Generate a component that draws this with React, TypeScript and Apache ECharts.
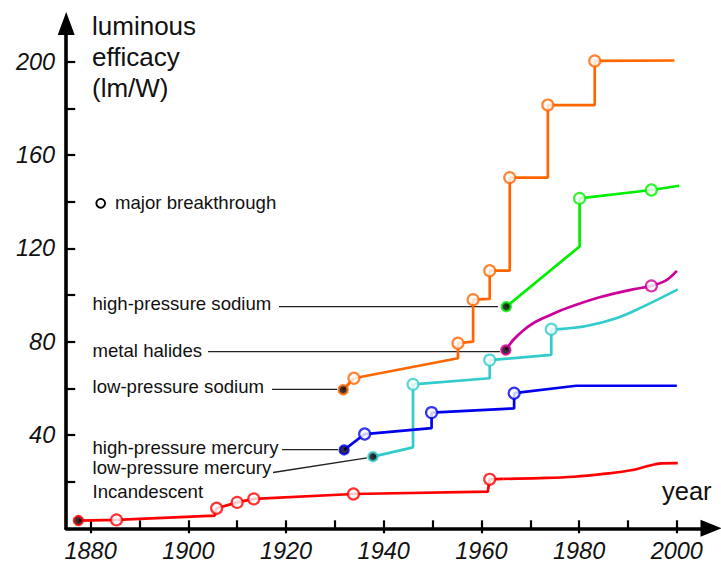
import React, { useEffect, useRef } from 'react';
import * as echarts from 'echarts';

const FONT = '"Liberation Sans", Arial, Helvetica, sans-serif';

// Axis ticks / labels
const xTickYears = [1880, 1890, 1900, 1910, 1920, 1930, 1940, 1950, 1960, 1970, 1980, 1990, 2000];
const xLabelYears = [1880, 1900, 1920, 1940, 1960, 1980, 2000];
const yTickValues = [20, 40, 60, 80, 100, 120, 140, 160, 180, 200];
const yLabelValues = [40, 80, 120, 160, 200];

// [year, lm/W, mark]  mark: 's' = first lamp (filled), 'o' = major breakthrough
type Pt = [number, number, string?];

const incandescent: Pt[] = [
  [1877.5, 3.3, 's'], [1885.3, 3.6, 'o'], [1905.4, 5.4], [1905.8, 8.6, 'o'],
  [1910.0, 11.1, 'o'], [1913.4, 12.6, 'o'], [1933.8, 14.7, 'o'], [1961.3, 15.7],
  [1961.7, 21.0, 'o'], [1964.5, 21.2],
];
const incandescentTail: Pt[] = [
  [1964.5, 21.2], [1972, 21.5], [1979, 22.1], [1985, 23.3], [1991, 25.0],
  [1994.5, 26.9], [1996.8, 27.8], [2000.2, 27.9],
];

const lowPressureSodium: Pt[] = [
  [1931.7, 59.4, 's'], [1933.9, 64.3, 'o'], [1955.2, 72.9], [1955.2, 79.3, 'o'],
  [1958.3, 80.0], [1958.3, 98.0, 'o'], [1961.7, 98.3], [1961.7, 110.4, 'o'],
  [1965.8, 110.4], [1965.8, 150.3, 'o'], [1973.6, 150.3], [1973.6, 181.4, 'o'],
  [1983.2, 181.4], [1983.2, 200.3, 'o'], [1999.5, 200.5],
];

const highPressureSodium: Pt[] = [
  [1965.1, 95.0, 's'], [1980.1, 120.8], [1980.1, 141.4, 'o'], [1994.8, 145.0, 'o'], [2000.5, 146.8],
];

const metalHalides: Pt[] = [
  [1965.0, 76.4, 's'], [1966.5, 80.7], [1968.5, 84.7], [1970.6, 87.9], [1974.0, 91.3],
  [1977.4, 94.3], [1984.2, 99.0], [1991.0, 102.4], [1994.8, 103.9, 'o'], [1997.9, 106.4],
  [2000.0, 110.3],
];

const lowPressureMercury: Pt[] = [
  [1937.8, 30.7, 's'], [1946.0, 34.7], [1946.0, 61.7, 'o'], [1961.7, 64.3],
  [1961.7, 72.1, 'o'], [1974.3, 74.3], [1974.3, 85.3, 'o'],
];
const lowPressureMercuryTail: Pt[] = [
  [1974.3, 85.3], [1976.0, 85.4], [1981.5, 86.7], [1987.6, 90.0], [1993.1, 95.0], [2000.2, 102.4],
];

const highPressureMercury: Pt[] = [
  [1931.9, 33.6, 's'], [1936.1, 40.4, 'o'], [1949.8, 42.9], [1949.8, 49.6, 'o'],
  [1966.7, 51.4], [1966.7, 57.9, 'o'], [1979.4, 61.1], [2000.0, 61.1],
];

const technologies = [
  { name: 'Incandescent', color: '#ff0000', steps: incandescent, tail: incandescentTail, smoothAll: false },
  { name: 'low-pressure sodium', color: '#ff6600', steps: lowPressureSodium, tail: null, smoothAll: false },
  { name: 'high-pressure sodium', color: '#00ee00', steps: highPressureSodium, tail: null, smoothAll: false },
  { name: 'metal halides', color: '#cc0099', steps: metalHalides, tail: null, smoothAll: true },
  { name: 'low-pressure mercury', color: '#33cccc', steps: lowPressureMercury, tail: lowPressureMercuryTail, smoothAll: false },
  { name: 'high-pressure mercury', color: '#0000ee', steps: highPressureMercury, tail: null, smoothAll: false },
];

export default function App() {
  const ref = useRef<HTMLDivElement>(null);
  useEffect(() => {
    if (!ref.current) return;
    const chart = echarts.init(ref.current, null, { renderer: 'svg' });

    const series: any[] = [];
    technologies.forEach((t) => {
      series.push({
        type: 'line',
        name: t.name,
        data: t.steps.map((p) => [p[0], p[1]]),
        symbol: 'none',
        smooth: t.smoothAll ? 0.35 : false,
        lineStyle: { color: t.color, width: 2.7 },
        z: 3,
      });
      if (t.tail) {
        series.push({
          type: 'line',
          name: t.name + ' tail',
          data: t.tail.map((p) => [p[0], p[1]]),
          symbol: 'none',
          smooth: 0.4,
          lineStyle: { color: t.color, width: 2.7 },
          z: 3,
        });
      }
      series.push({
        type: 'scatter',
        name: t.name + ' marks',
        z: 5,
        data: t.steps
          .filter((p) => p[2])
          .map((p) =>
            p[2] === 'o'
              ? {
                  value: [p[0], p[1]],
                  symbol: 'circle',
                  symbolSize: 11,
                  itemStyle: { color: '#ffffff', borderColor: t.color, borderWidth: 2.2 },
                }
              : {
                  value: [p[0], p[1]],
                  symbol: 'circle',
                  symbolSize: 9,
                  itemStyle: { color: '#000000', borderColor: t.color, borderWidth: 2.4 },
                }
          ),
      });
    });

    const labelStyle = { fill: '#111', verticalAlign: 'middle', align: 'left' };
    const leader = (x1: number, y1: number, x2: number, y2: number) => ({
      type: 'line',
      shape: { x1, y1, x2, y2 },
      style: { stroke: '#222', lineWidth: 1.3 },
      z: 1,
    });
    const text = (x: number, y: number, t: string, size = 18.6) => ({
      type: 'text',
      x,
      y,
      style: { ...labelStyle, text: t, font: `${size}px ${FONT}` },
      z: 10,
    });

    chart.setOption({
      animation: false,
      grid: { left: 66.2, right: 10, top: 23.4, bottom: 36.7, containLabel: false },
      xAxis: [
        {
          type: 'value',
          min: 1875,
          max: 2007,
          position: 'bottom',
          splitLine: { show: false },
          axisLine: {
            show: true,
            onZero: false,
            symbol: ['none', 'triangle'],
            symbolSize: [17, 21],
            lineStyle: { color: '#000', width: 3.6 },
          },
          axisTick: { show: true, inside: true, length: 8, customValues: xTickYears, lineStyle: { color: '#000', width: 2.2 } },
          axisLabel: {
            show: true,
            customValues: xLabelYears,
            formatter: (v: number) => String(Math.round(v)),
            margin: 11,
            fontSize: 23.5,
            fontStyle: 'italic',
            fontFamily: FONT,
            color: '#111',
          },
        },
        {
          type: 'value',
          min: 1875,
          max: 2007,
          position: 'bottom',
          splitLine: { show: false },
          axisLine: { show: false, onZero: false },
          axisTick: { show: true, inside: false, length: 5, customValues: xLabelYears, lineStyle: { color: '#000', width: 2.2 } },
          axisLabel: { show: false },
        },
      ],
      yAxis: {
        type: 'value',
        min: 0,
        max: 216.4,
        splitLine: { show: false },
        axisLine: {
          show: true,
          onZero: false,
          symbol: ['none', 'triangle'],
          symbolSize: [17, 23],
          lineStyle: { color: '#000', width: 3.6 },
        },
        axisTick: { show: true, inside: true, length: 9, customValues: yTickValues, lineStyle: { color: '#000', width: 2.2 } },
        axisLabel: {
          show: true,
          customValues: yLabelValues,
          formatter: (v: number) => String(Math.round(v)),
          margin: 11,
          fontSize: 23.5,
          fontStyle: 'italic',
          fontFamily: FONT,
          color: '#111',
        },
      },
      series,
      graphic: [
        text(92, 26.3, 'luminous', 26),
        text(92, 57.3, 'efficacy', 26),
        text(92, 88.3, '(lm/W)', 26),
        text(662, 491, 'year', 25.5),
        {
          type: 'circle',
          shape: { cx: 100.7, cy: 203.3, r: 4.4 },
          style: { fill: '#fff', stroke: '#000', lineWidth: 1.9 },
          z: 10,
        },
        text(115, 202.5, 'major breakthrough'),
        text(92.5, 303.4, 'high-pressure sodium'),
        leader(279, 306.7, 498, 306.7),
        text(92.5, 350, 'metal halides'),
        leader(208, 351.6, 500, 351.6),
        text(92.5, 386.7, 'low-pressure sodium'),
        leader(272, 389.3, 337, 389.3),
        text(92.5, 447.7, 'high-pressure mercury'),
        leader(282, 449.6, 338, 449.6),
        text(92.5, 467.7, 'low-pressure mercury'),
        leader(273, 472.5, 367, 457.8),
        text(92.5, 491.7, 'Incandescent'),
      ],
    });
    return () => chart.dispose();
  }, []);
  return (
    <div
      ref={ref}
      style={{ position: 'absolute', left: 0, top: 0, width: 721, height: 565, background: '#fff' }}
    />
  );
}
